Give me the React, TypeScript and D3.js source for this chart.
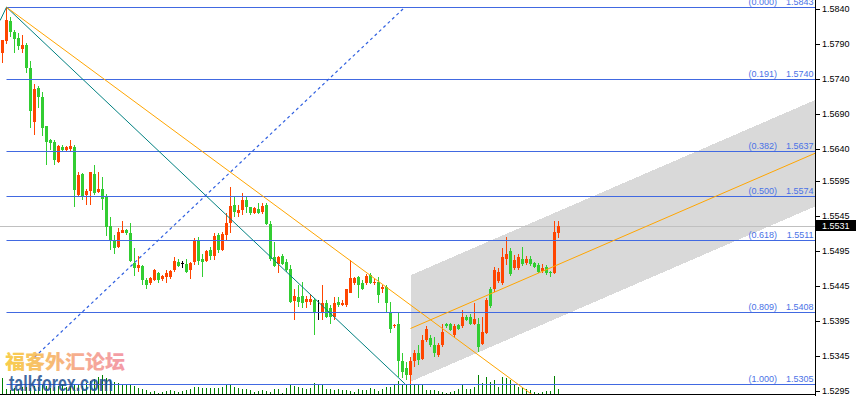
import React from "react";
import * as d3 from "d3";

// candles (oldest -> newest), prices
const candleOpen = [
  1.5777, 1.5795, 1.5824, 1.5808, 1.5799, 1.5783, 1.5789, 1.5756, 1.5679, 1.5727,
  1.5715, 1.5673, 1.5653, 1.5651, 1.5622, 1.5644, 1.5639, 1.5640, 1.5644, 1.5575,
  1.5605, 1.5575, 1.5581, 1.5605, 1.5579, 1.5583, 1.5572, 1.5530, 1.5509, 1.5500,
  1.5521, 1.5525, 1.5521, 1.5477, 1.5471, 1.5473, 1.5453, 1.5449, 1.5453, 1.5464,
  1.5455, 1.5458, 1.5458, 1.5467, 1.5479, 1.5477, 1.5476, 1.5467, 1.5479, 1.5510,
  1.5483, 1.5481, 1.5496, 1.5488, 1.5518, 1.5496, 1.5518, 1.5535, 1.5560, 1.5549,
  1.5554, 1.5568, 1.5557, 1.5549, 1.5555, 1.5551, 1.5560, 1.5534, 1.5486, 1.5476,
  1.5488, 1.5479, 1.5469, 1.5424, 1.5429, 1.5431, 1.5422, 1.5422, 1.5425, 1.5408,
  1.5408, 1.5420, 1.5413, 1.5401, 1.5422, 1.5418, 1.5418, 1.5435, 1.5449, 1.5458,
  1.5449, 1.5449, 1.5461, 1.5449, 1.5451, 1.5441, 1.5444, 1.5408, 1.5387, 1.5390,
  1.5337, 1.5328, 1.5318, 1.5337, 1.5349, 1.5341, 1.5368, 1.5370, 1.5360, 1.5346,
  1.5360, 1.5390, 1.5390, 1.5375, 1.5389, 1.5387, 1.5401, 1.5401, 1.5391, 1.5390,
  1.5362, 1.5378, 1.5440, 1.5440, 1.5452, 1.5449, 1.5484, 1.5494, 1.5470, 1.5470,
  1.5484, 1.5477, 1.5484, 1.5477, 1.5475, 1.5466, 1.5472, 1.5465, 1.5464, 1.5521,
];
const candleHigh = [
  1.5796, 1.5843, 1.5829, 1.5811, 1.5806, 1.5804, 1.5792, 1.5766, 1.5734, 1.5730,
  1.5722, 1.5674, 1.5655, 1.5653, 1.5646, 1.5646, 1.5645, 1.5653, 1.5646, 1.5608,
  1.5606, 1.5583, 1.5608, 1.5618, 1.5607, 1.5600, 1.5576, 1.5544, 1.5518, 1.5527,
  1.5537, 1.5526, 1.5535, 1.5499, 1.5487, 1.5475, 1.5456, 1.5458, 1.5469, 1.5465,
  1.5460, 1.5468, 1.5467, 1.5486, 1.5484, 1.5481, 1.5484, 1.5479, 1.5513, 1.5515,
  1.5491, 1.5496, 1.5501, 1.5520, 1.5520, 1.5522, 1.5549, 1.5586, 1.5573, 1.5560,
  1.5577, 1.5573, 1.5558, 1.5558, 1.5564, 1.5564, 1.5563, 1.5537, 1.5507, 1.5488,
  1.5491, 1.5484, 1.5475, 1.5440, 1.5446, 1.5451, 1.5431, 1.5433, 1.5427, 1.5425,
  1.5446, 1.5425, 1.5418, 1.5429, 1.5429, 1.5425, 1.5441, 1.5482, 1.5458, 1.5459,
  1.5453, 1.5462, 1.5463, 1.5456, 1.5458, 1.5446, 1.5446, 1.5422, 1.5390, 1.5408,
  1.5349, 1.5336, 1.5344, 1.5353, 1.5360, 1.5375, 1.5387, 1.5375, 1.5372, 1.5363,
  1.5391, 1.5392, 1.5392, 1.5391, 1.5391, 1.5411, 1.5403, 1.5405, 1.5420, 1.5399,
  1.5401, 1.5428, 1.5444, 1.5472, 1.5470, 1.5499, 1.5515, 1.5499, 1.5489, 1.5491,
  1.5501, 1.5487, 1.5487, 1.5479, 1.5477, 1.5476, 1.5474, 1.5466, 1.5538, 1.5537,
];
const candleLow = [
  1.5764, 1.5790, 1.5800, 1.5777, 1.5782, 1.5777, 1.5749, 1.5671, 1.5660, 1.5699,
  1.5659, 1.5617, 1.5639, 1.5617, 1.5621, 1.5638, 1.5638, 1.5638, 1.5557, 1.5572,
  1.5567, 1.5560, 1.5560, 1.5575, 1.5577, 1.5553, 1.5516, 1.5496, 1.5490, 1.5499,
  1.5520, 1.5517, 1.5479, 1.5459, 1.5465, 1.5446, 1.5440, 1.5446, 1.5452, 1.5449,
  1.5452, 1.5449, 1.5454, 1.5465, 1.5472, 1.5471, 1.5464, 1.5455, 1.5475, 1.5475,
  1.5457, 1.5479, 1.5482, 1.5482, 1.5492, 1.5494, 1.5510, 1.5520, 1.5544, 1.5543,
  1.5546, 1.5549, 1.5546, 1.5548, 1.5548, 1.5548, 1.5532, 1.5481, 1.5472, 1.5463,
  1.5475, 1.5465, 1.5421, 1.5396, 1.5415, 1.5413, 1.5413, 1.5418, 1.5375, 1.5396,
  1.5396, 1.5399, 1.5391, 1.5396, 1.5415, 1.5416, 1.5415, 1.5434, 1.5446, 1.5427,
  1.5439, 1.5446, 1.5448, 1.5446, 1.5420, 1.5434, 1.5408, 1.5377, 1.5385, 1.5315,
  1.5313, 1.5310, 1.5305, 1.5329, 1.5332, 1.5339, 1.5365, 1.5358, 1.5344, 1.5343,
  1.5358, 1.5385, 1.5380, 1.5370, 1.5382, 1.5385, 1.5394, 1.5389, 1.5389, 1.5350,
  1.5360, 1.5376, 1.5413, 1.5436, 1.5449, 1.5446, 1.5475, 1.5459, 1.5468, 1.5468,
  1.5473, 1.5475, 1.5473, 1.5470, 1.5463, 1.5464, 1.5460, 1.5458, 1.5462, 1.5513,
];
const candleClose = [
  1.5796, 1.5825, 1.5808, 1.5798, 1.5788, 1.5789, 1.5756, 1.5695, 1.5726, 1.5715,
  1.5671, 1.5651, 1.5649, 1.5625, 1.5645, 1.5639, 1.5644, 1.5645, 1.5582, 1.5603,
  1.5573, 1.5581, 1.5607, 1.5578, 1.5583, 1.5569, 1.5529, 1.5510, 1.5499, 1.5522,
  1.5525, 1.5520, 1.5481, 1.5471, 1.5475, 1.5453, 1.5446, 1.5456, 1.5467, 1.5453,
  1.5459, 1.5463, 1.5466, 1.5480, 1.5473, 1.5477, 1.5465, 1.5478, 1.5509, 1.5481,
  1.5479, 1.5495, 1.5488, 1.5516, 1.5496, 1.5519, 1.5535, 1.5559, 1.5551, 1.5553,
  1.5568, 1.5557, 1.5549, 1.5556, 1.5549, 1.5559, 1.5533, 1.5484, 1.5473, 1.5486,
  1.5476, 1.5468, 1.5422, 1.5430, 1.5422, 1.5421, 1.5426, 1.5426, 1.5408, 1.5408,
  1.5421, 1.5401, 1.5401, 1.5421, 1.5418, 1.5421, 1.5440, 1.5456, 1.5456, 1.5446,
  1.5440, 1.5459, 1.5449, 1.5451, 1.5432, 1.5444, 1.5420, 1.5384, 1.5389, 1.5337,
  1.5322, 1.5318, 1.5337, 1.5349, 1.5339, 1.5367, 1.5384, 1.5360, 1.5349, 1.5360,
  1.5379, 1.5387, 1.5382, 1.5388, 1.5384, 1.5401, 1.5396, 1.5391, 1.5398, 1.5358,
  1.5379, 1.5425, 1.5416, 1.5468, 1.5465, 1.5486, 1.5491, 1.5462, 1.5482, 1.5486,
  1.5476, 1.5483, 1.5476, 1.5472, 1.5465, 1.5471, 1.5464, 1.5463, 1.5522, 1.5531,
];
const tickVolume = [
  170, 60, 50, 70, 60, 80, 80, 70, 90, 80, 100, 90, 70, 80, 90, 100, 80, 90, 110, 100,
  90, 120, 140, 160, 180, 200, 170, 150, 130, 120, 110, 110, 100, 90, 70, 60, 50, 30, 40, 20,
  30, 40, 50, 40, 30, 40, 50, 60, 80, 80, 70, 70, 70, 70, 70, 80, 100, 100, 80, 70,
  60, 60, 50, 30, 40, 50, 40, 30, 60, 60, 20, 70, 100, 90, 80, 70, 60, 70, 120, 110,
  100, 60, 60, 50, 60, 50, 50, 40, 30, 60, 50, 50, 70, 60, 40, 60, 80, 80, 100, 140,
  110, 100, 100, 100, 100, 100, 50, 50, 50, 40, 30, 20, 30, 40, 60, 100, 60, 60, 80, 200,
  120, 180, 130, 150, 80, 180, 170, 150, 110, 80, 70, 60, 50, 30, 20, 30, 40, 40, 190, 60,
];

// fibonacci retracement, high of bar 1 to low of bar 102
const fibRatios = ["0.000", "0.191", "0.382", "0.500", "0.618", "0.809", "1.000"];
const fibPrices = [1.5843, 1.574, 1.5637, 1.5574, 1.5511, 1.5408, 1.5305];
const fibStartBar = 1;

const priceTicks = [1.584, 1.579, 1.574, 1.569, 1.564, 1.5595, 1.5545, 1.5495, 1.5445, 1.5395, 1.5345, 1.5295];
const lastPrice = 1.5531;

// drawn objects: [bar, price] anchors
const tealLine = [[1, 1.5843], [100.6, 1.5305]];
const tealStub = [[-0.6, 1.5824], [1, 1.5843]];
const orangeRay = [[1, 1.5843], [100, 1.5426]];
const dashedLine = [[8, 1.5343], [100.6, 1.5843]];
const channelMid = [[102, 1.5384], [203, 1.5634]];
const channelHalf = 0.0076;

const W = 857;
const H = 396;
const plotRight = 815;
const plotBottom = 395;

const fontAxis = "Liberation Sans, Arial, sans-serif";

export default function App() {
  const x = d3.scaleLinear().domain([0, 139]).range([2.5, 558.5]);
  const y = d3.scaleLinear().domain([1.5295, 1.584]).range([390.8, 9.3]);
  const vol = d3.scaleLinear().domain([0, 200]).range([plotBottom, plotBottom - 20]);

  const fmt = d3.format(".4f");
  const bars = d3.range(candleOpen.length);

  // extend a 2-anchor line to bar index t
  const at = (pts: number[][], t: number) => {
    const [[i0, p0], [i1, p1]] = pts;
    return p0 + ((p1 - p0) * (t - i0)) / (i1 - i0);
  };
  const rightBar = x.invert(plotRight);

  const line = d3.line<number[]>().x((d) => x(d[0])).y((d) => y(d[1]));

  const chStart = channelMid[0][0];
  const chPoly: number[][] = [
    [chStart, at(channelMid, chStart) + channelHalf],
    [rightBar, at(channelMid, rightBar) + channelHalf],
    [rightBar, at(channelMid, rightBar) - channelHalf],
    [chStart, at(channelMid, chStart) - channelHalf],
  ];

  const rayEnd = 140;

  return (
    <svg
      width={W}
      height={H}
      viewBox={`0 0 ${W} ${H}`}
      style={{ position: "fixed", left: 0, top: 0, background: "#fff" }}
    >
      <defs>
        <clipPath id="plot">
          <rect x={0} y={0} width={plotRight} height={plotBottom} />
        </clipPath>
        <linearGradient id="wm" gradientUnits="userSpaceOnUse" x1={6} y1={0} x2={124} y2={0}>
          <stop offset="0" stopColor="#f7c52e" />
          <stop offset="0.35" stopColor="#f6b257" />
          <stop offset="0.65" stopColor="#f59c82" />
          <stop offset="1" stopColor="#f28a98" />
        </linearGradient>
      </defs>
      <rect width={W} height={H} fill="#fff" />

      <g clipPath="url(#plot)">
        {/* channel fill */}
        <path d={line(chPoly) + "Z"} fill="#d9d9d9" shapeRendering="crispEdges" />

        {/* last price line */}
        <line x1={0} x2={plotRight} y1={Math.round(y(lastPrice)) + 0.5} y2={Math.round(y(lastPrice)) + 0.5} stroke="#c0c0c0" />

        {/* volumes */}
        {bars.map((i) => (
          <rect
            key={"v" + i}
            x={Math.floor(x(i))}
            y={vol(tickVolume[i])}
            width={1}
            height={plotBottom - vol(tickVolume[i])}
            fill="#008000"
            shapeRendering="crispEdges"
          />
        ))}

        {/* candles */}
        {bars.map((i) => {
          const o = candleOpen[i];
          const c = candleClose[i];
          const cx = Math.floor(x(i));
          const col = c > o ? "#ff4500" : c < o ? "#32cd32" : "#000";
          const top = Math.round(y(Math.max(o, c)));
          const bot = Math.round(y(Math.min(o, c)));
          return (
            <g key={"c" + i} shapeRendering="crispEdges" fill={col}>
              <rect x={cx} y={Math.round(y(candleHigh[i]))} width={1} height={Math.max(1, Math.round(y(candleLow[i])) - Math.round(y(candleHigh[i])))} />
              {c === o ? (
                <rect x={cx - 1} y={top} width={3} height={1} />
              ) : (
                <rect x={cx - 1} y={top} width={3} height={Math.max(1, bot - top)} />
              )}
            </g>
          );
        })}

        {/* fibonacci levels */}
        {fibPrices.map((p, k) => {
          const yy = Math.round(y(p)) + 0.5;
          return (
            <g key={"f" + k}>
              <line x1={x(fibStartBar)} x2={plotRight} y1={yy} y2={yy} stroke="#4169e1" strokeWidth={1} />
              <text x={777} y={yy - 2.5} textAnchor="end" fontFamily={fontAxis} fontSize={9} fill="#4a72e6">
                ({fibRatios[k]})
              </text>
              <text x={813.5} y={yy - 2.5} textAnchor="end" fontFamily={fontAxis} fontSize={9} fill="#4a72e6">
                {fmt(p)}
              </text>
            </g>
          );
        })}

        {/* channel mid line */}
        <path d={line([[chStart, at(channelMid, chStart)], [rightBar, at(channelMid, rightBar)]]) || ""} stroke="#ffa500" fill="none" />

        {/* trend lines */}
        <path d={line(tealLine) || ""} stroke="#008080" fill="none" />
        <path d={line(tealStub) || ""} stroke="#008080" fill="none" />
        <path d={line([orangeRay[0], [rayEnd, at(orangeRay, rayEnd)]]) || ""} stroke="#ffa500" fill="none" />
        <path d={line(dashedLine) || ""} stroke="#3060e0" strokeWidth={1.2} strokeDasharray="3,3" fill="none" />
      </g>

      {/* axes frame */}
      <line x1={plotRight + 0.5} x2={plotRight + 0.5} y1={0} y2={H} stroke="#000" />
      <line x1={0} x2={plotRight} y1={plotBottom - 0.5} y2={plotBottom - 0.5} stroke="#000" />

      {priceTicks.map((t) => (
        <g key={"t" + t}>
          <line x1={plotRight + 1} x2={plotRight + 5} y1={Math.round(y(t)) + 0.5} y2={Math.round(y(t)) + 0.5} stroke="#000" />
          <text x={822} y={y(t)} dy="0.35em" fontFamily={fontAxis} fontSize={9} fill="#000">
            {fmt(t)}
          </text>
        </g>
      ))}

      {/* last price tag */}
      <rect x={plotRight + 1} y={Math.round(y(lastPrice)) - 6} width={W - plotRight - 2} height={11} fill="#000" />
      <text x={822} y={y(lastPrice)} dy="0.35em" fontFamily={fontAxis} fontSize={9} fill="#fff">
        {fmt(lastPrice)}
      </text>

      {/* watermark */}
      <g opacity={0.85}>
        <text x={5} y={369} fontFamily="Noto Sans CJK SC" fontWeight={900} fontSize={19} fill="url(#wm)" textLength={120} lengthAdjust="spacingAndGlyphs">
          福客外汇论坛
        </text>
        <text x={9} y={391} fontFamily={fontAxis} fontWeight={700} fontSize={22} fill="#1d4f92" textLength={104} lengthAdjust="spacingAndGlyphs">
          talkforex.com
        </text>
      </g>
    </svg>
  );
}
